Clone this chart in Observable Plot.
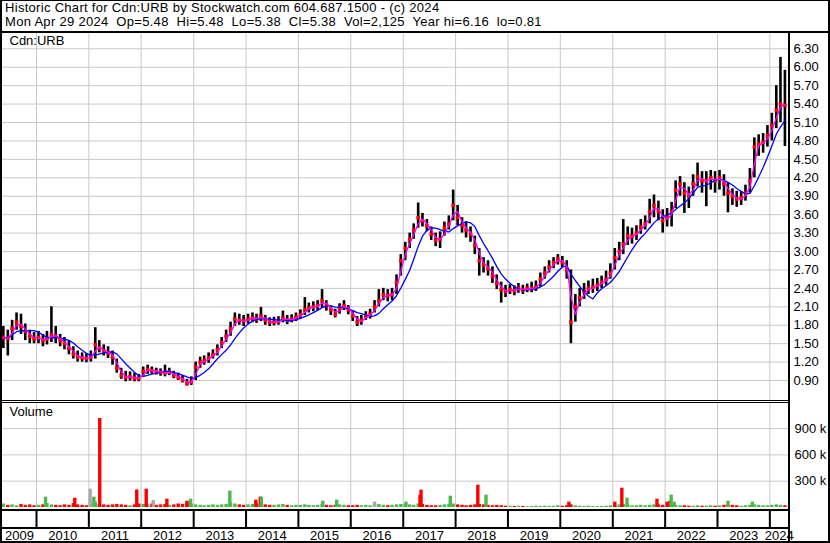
<!DOCTYPE html>
<html><head><meta charset="utf-8">
<script src="https://cdn.jsdelivr.net/npm/d3@7"></script>
<script src="https://cdn.jsdelivr.net/npm/@observablehq/plot@0.6"></script>
<style>
body{margin:0;background:#fff;}
#chart{position:relative;width:830px;height:543px;background:#fff;font-family:"Liberation Sans",Arial,sans-serif;overflow:hidden;color:#000;}
.hdr{position:absolute;left:5px;font-size:13px;letter-spacing:0.3px;white-space:pre;line-height:13px;height:13px;}
.bl{position:absolute;background:#000;}
.pane{position:absolute;left:0;}
</style></head><body><div id="chart"></div><script>
// ---- data (monthly, from May 2009 to Apr 2024) ----
const titleLine1 = "Historic Chart for Cdn:URB by Stockwatch.com 604.687.1500 - (c) 2024";
const titleLine2 = "Mon Apr 29 2024  Op=5.48  Hi=5.48  Lo=5.38  Cl=5.38  Vol=2,125  Year hi=6.16  lo=0.81";
const symbolLabel = "Cdn:URB";
const firstYear = 2009, firstMonth = 5;
const monthClose = [
  1.60,1.58,1.75,1.85,1.78,1.70,1.62,1.58,
  1.60,1.55,1.58,1.65,1.62,1.55,1.50,1.42,1.33,1.28,1.27,1.26,
  1.28,1.48,1.42,1.38,1.35,1.28,1.10,0.98,0.95,0.96,0.94,0.93,
  1.05,1.08,1.06,1.05,1.03,1.02,1.04,0.98,0.95,0.91,0.85,0.88,
  1.12,1.20,1.22,1.27,1.32,1.40,1.52,1.62,1.74,1.90,1.88,1.87,
  1.90,1.92,1.90,1.95,1.88,1.85,1.85,1.86,1.92,1.88,1.90,1.93,
  1.97,2.05,2.08,2.10,2.12,2.20,2.12,2.05,1.98,2.08,2.12,2.05,
  1.95,1.85,1.88,1.95,1.98,2.10,2.20,2.30,2.28,2.30,2.50,2.85,
  3.05,3.20,3.35,3.55,3.50,3.42,3.28,3.18,3.20,3.38,3.45,3.75,
  3.55,3.42,3.35,3.28,3.10,2.85,2.78,2.72,2.60,2.48,2.38,2.35,
  2.38,2.36,2.40,2.37,2.40,2.40,2.42,2.55,2.65,2.75,2.82,2.88,
  2.82,2.70,1.85,2.10,2.25,2.35,2.40,2.42,2.45,2.50,2.55,2.65,
  2.90,3.00,3.12,3.25,3.25,3.30,3.40,3.45,3.65,3.75,3.65,3.50,
  3.55,3.65,4.00,4.10,3.95,3.90,4.10,4.22,4.15,4.15,4.20,4.15,
  4.20,4.10,3.95,3.90,3.85,3.87,3.95,4.15,4.70,4.75,4.78,4.88,
  5.05,5.30,5.40,5.38
];
const monthHigh = [
  1.78,1.72,1.88,2.00,1.98,1.82,1.72,1.68,
  1.70,1.65,1.70,2.10,1.78,1.65,1.60,1.55,1.45,1.38,1.35,1.34,
  1.38,1.76,1.55,1.48,1.45,1.38,1.25,1.10,1.05,1.04,1.02,1.00,
  1.12,1.15,1.12,1.10,1.09,1.15,1.10,1.05,1.02,0.98,0.92,0.96,
  1.20,1.28,1.30,1.35,1.40,1.48,1.60,1.72,1.85,2.00,1.98,1.96,
  1.98,2.00,1.98,2.09,1.96,1.92,1.93,1.94,2.03,1.96,1.97,2.00,
  2.05,2.25,2.16,2.18,2.20,2.38,2.20,2.12,2.06,2.15,2.20,2.12,
  2.04,1.94,1.96,2.02,2.06,2.20,2.38,2.40,2.38,2.40,2.62,2.95,
  3.15,3.30,3.45,3.79,3.62,3.52,3.40,3.30,3.32,3.48,3.58,4.00,
  3.75,3.55,3.48,3.40,3.25,3.05,2.90,2.85,2.75,2.62,2.50,2.45,
  2.46,2.44,2.48,2.45,2.47,2.50,2.52,2.65,2.75,2.85,2.90,2.95,
  2.92,2.85,2.70,2.30,2.40,2.48,2.52,2.55,2.56,2.60,2.68,2.80,
  3.05,3.15,3.52,3.40,3.38,3.42,3.52,3.58,3.85,3.92,3.82,3.68,
  3.70,3.80,4.15,4.22,4.12,4.05,4.25,4.44,4.30,4.30,4.32,4.30,
  4.32,4.25,4.12,4.02,3.98,3.98,4.08,4.35,4.85,4.90,4.92,5.05,
  5.25,5.70,6.16,5.95
];
const monthLow = [
  1.42,1.30,1.55,1.72,1.65,1.55,1.50,1.50,
  1.50,1.45,1.48,1.52,1.50,1.45,1.40,1.32,1.25,1.20,1.20,1.19,
  1.20,1.25,1.35,1.30,1.26,1.15,1.02,0.92,0.88,0.89,0.88,0.88,
  0.95,1.00,1.00,0.99,0.97,0.96,0.98,0.93,0.90,0.86,0.81,0.82,
  0.90,1.10,1.15,1.18,1.25,1.30,1.42,1.52,1.62,1.78,1.80,1.78,
  1.82,1.84,1.83,1.86,1.80,1.78,1.79,1.80,1.84,1.81,1.84,1.86,
  1.90,1.96,2.00,2.02,2.04,2.08,2.03,1.96,1.92,1.98,2.04,1.97,
  1.86,1.78,1.80,1.88,1.90,2.00,2.10,2.20,2.18,2.20,2.30,2.60,
  2.85,3.05,3.20,3.38,3.40,3.32,3.18,3.08,3.05,3.25,3.35,3.50,
  3.42,3.30,3.22,3.15,2.95,2.60,2.65,2.60,2.48,2.38,2.16,2.25,
  2.30,2.28,2.32,2.30,2.33,2.33,2.35,2.42,2.55,2.65,2.72,2.78,
  2.74,2.55,1.50,1.85,2.10,2.22,2.30,2.32,2.35,2.40,2.45,2.55,
  2.70,2.85,2.95,3.10,3.12,3.18,3.28,3.35,3.45,3.55,3.50,3.30,
  3.40,3.40,3.70,3.90,3.62,3.70,3.90,4.05,3.95,3.73,4.00,3.95,
  4.00,3.90,3.63,3.75,3.72,3.75,3.82,3.95,4.20,4.55,4.60,4.70,
  4.80,5.00,5.10,4.71
];
// monthly base trading volume, thousands of shares
const monthVolK = [
  40,25,30,20,35,25,30,20,
  25,30,45,30,25,20,30,25,45,30,25,20,
  40,60,35,30,25,30,35,30,25,20,30,40,
  35,30,40,25,30,35,25,30,40,35,45,40,
  30,25,20,25,30,25,30,35,50,40,30,25,
  30,35,40,45,30,25,25,30,35,25,20,25,
  25,30,25,20,25,35,25,20,25,30,25,20,
  20,25,20,25,20,30,35,25,20,25,30,35,
  35,30,25,40,35,25,20,20,25,30,35,40,
  30,25,20,25,30,35,30,25,20,25,20,15,
  15,12,15,12,10,12,15,12,15,12,15,20,
  15,20,30,20,15,12,15,12,10,12,15,20,
  25,30,35,30,20,20,25,20,25,30,30,25,
  30,35,25,20,20,15,15,20,15,15,20,15,
  20,25,30,25,20,15,20,25,30,25,20,20,
  25,30,25,20
];
// large single-day volume spikes
const spikeDates = ["2010-03-05","2010-09-25","2011-01-10","2011-02-05","2011-03-18","2011-12-01","2012-02-05","2012-03-25","2012-06-28","2012-11-15","2012-12-10","2013-09-10","2014-03-10","2014-04-10","2014-04-18","2015-06-20","2015-09-25","2016-06-15","2017-01-20","2017-04-28","2017-05-05","2017-11-25","2018-06-05","2018-08-01","2020-03-01","2021-01-15","2021-03-05","2021-04-10","2021-11-05","2022-01-15","2022-02-05","2022-02-12","2022-03-05","2023-03-15","2023-09-01"];
const spikeVolK   = [118,106,209,118,1015,200,209,80,95,72,95,186,84,118,118,72,84,61,61,141,198,129,255,141,61,61,220,106,95,61,72,141,61,72,61];
const spikeDir    = ["up","down","flat","up","down","down","down","flat","down","down","up","up","down","down","up","up","up","flat","up","down","down","up","down","up","down","down","down","up","down","down","down","up","up","up","up"];
const priceTicks = [0.90,1.20,1.50,1.80,2.10,2.40,2.70,3.00,3.30,3.60,3.90,4.20,4.50,4.80,5.10,5.40,5.70,6.00,6.30];
const volTicks = [300000,600000,900000];
const yearLabels = [2009,2010,2011,2012,2013,2014,2015,2016,2017,2018,2019,2020,2021,2022,2023,2024];

// ---- build tables ----
const rows = monthClose.map((c,i)=>({
  date: new Date(Date.UTC(firstYear, firstMonth-1+i, 15)),
  close: c, high: monthHigh[i], low: monthLow[i]
}));
const dirColor = {up:"#4cb84c", down:"#ff0000", flat:"#a8a8a8"};
const volRows = monthVolK.map((v,i)=>({
  date: rows[i].date, vol: v*1000,
  dir: i>0 && monthClose[i] < monthClose[i-1] ? "down" : "up"
})).concat(spikeDates.map((d,i)=>({date:new Date(d+"T00:00Z"), vol: spikeVolK[i]*1000, dir: spikeDir[i]})));
const xDomain = [new Date(Date.UTC(2009,4,9)), new Date(Date.UTC(2024,4,10))];
const yearStarts = yearLabels.slice(1).map(y=>new Date(Date.UTC(y,0,1)));
const yearMid = yearLabels.map(y=>{
  const a = Math.max(+new Date(Date.UTC(y,0,1)), +xDomain[0]);
  const b = Math.min(+new Date(Date.UTC(y+1,0,1)), +xDomain[1]);
  return {year:y, date:new Date((a+b)/2)};
});

const font = '"Liberation Sans", Arial, sans-serif';
const baseStyle = {fontFamily: font, fontSize: "13px", color: "#000", background: "transparent", overflow: "visible"};
const grid = "#c8c8c8";

const price = Plot.plot({
  width: 830, height: 367, marginLeft: 2, marginRight: 42, marginTop: 0, marginBottom: 0,
  style: baseStyle,
  x: {type: "utc", domain: xDomain, axis: null},
  y: {domain: [0.575, 6.549], label: null},
  marks: [
    Plot.ruleY(priceTicks, {stroke: grid}),
    Plot.ruleX(yearStarts, {stroke: grid}),
    Plot.axisY(priceTicks, {anchor: "right", label: null, tickSize: 0, tickPadding: 5, tickFormat: d => d.toFixed(2), fontSize: 13, fill: "#000"}),
    Plot.ruleX(rows, {x: "date", y1: "low", y2: "high", stroke: "#000", strokeWidth: 2.6}),
    Plot.dot(rows, {x: "date", y: "close", r: 2, symbol: "square", fill: "#ff0000"}),
    Plot.lineY(rows, Plot.windowY({k: 6, anchor: "end"}, {x: "date", y: "close", stroke: "#0000ff", strokeWidth: 1.3})),
    Plot.lineY(rows, Plot.windowY({k: 2, anchor: "end"}, {x: "date", y: "close", stroke: "#ff00ff", strokeWidth: 1.3})),
    Plot.text([symbolLabel], {frameAnchor: "top-left", dx: 7, dy: 2, lineAnchor: "top", textAnchor: "start", fontSize: 13, fill: "#000"})
  ]
});

const vol = Plot.plot({
  width: 830, height: 106, marginLeft: 2, marginRight: 42, marginTop: 0, marginBottom: 2,
  style: baseStyle,
  x: {type: "utc", domain: xDomain, axis: null},
  y: {domain: [0, 1186000], label: null},
  marks: [
    Plot.ruleY(volTicks, {stroke: grid}),
    Plot.ruleX(yearStarts, {stroke: grid}),
    Plot.axisY(volTicks, {anchor: "right", label: null, tickSize: 0, tickPadding: 6, tickFormat: d => (d/1000) + " k", fontSize: 13, fill: "#000"}),
    Plot.ruleX(volRows, {x: "date", y1: 0, y2: "vol", stroke: d => dirColor[d.dir], strokeWidth: 3.4}),
    Plot.text(["Volume"], {frameAnchor: "top-left", dx: 7, dy: 3, lineAnchor: "top", textAnchor: "start", fontSize: 13, fill: "#000"})
  ]
});

const strip = Plot.plot({
  width: 830, height: 30, marginLeft: 2, marginRight: 42, marginTop: 0, marginBottom: 0,
  style: baseStyle,
  x: {type: "utc", domain: xDomain, axis: null},
  y: {type: "identity"},
  marks: [
    Plot.ruleX(yearStarts, {y1: 0, y2: 16, stroke: "#000", strokeWidth: 2}),
    Plot.text(yearMid, {x: "date", y: 24, text: d => String(d.year), textAnchor: "middle", fontSize: 13, fill: "#000"})
  ]
});

const root = document.getElementById("chart");
function add(el, top){ const d=document.createElement("div"); d.className="pane"; d.style.top=top+"px"; d.appendChild(el); root.appendChild(d); }
function hdr(t, top){ const d=document.createElement("div"); d.className="hdr"; d.style.top=top+"px"; d.textContent=t; root.appendChild(d); }
function line(l,t,w,h){ const d=document.createElement("div"); d.className="bl"; Object.assign(d.style,{left:l+"px",top:t+"px",width:w+"px",height:h+"px"}); root.appendChild(d); }
hdr(titleLine1, 1);
hdr(titleLine2, 15);
add(price, 33);
add(vol, 403);
add(strip, 511);
line(0,0,830,1);
line(0,0,2,543);
line(828,0,2,543);
line(0,541,830,2);
line(0,31,830,2);
line(788,31,2,512);
line(0,400,790,1);
line(0,402,790,1);
line(0,509,790,2);
line(0,527,790,2);
</script></body></html>
